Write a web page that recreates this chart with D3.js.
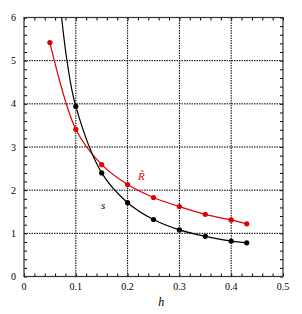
<!DOCTYPE html>
<html>
<head>
<meta charset="utf-8">
<script src="https://cdn.jsdelivr.net/npm/d3@7"></script>
<style>
body { margin: 0; background: #fff; }
text { font-family: "Liberation Serif", "DejaVu Serif", serif; }
</style>
</head>
<body>
<div id="main"></div>
<script>
var xTicks = [0, 0.1, 0.2, 0.3, 0.4, 0.5];
var yTicks = [0, 1, 2, 3, 4, 5, 6];

var sH = [0.1, 0.15, 0.2, 0.25, 0.3, 0.35, 0.4, 0.43];
var sVal = [3.94, 2.4, 1.71, 1.32, 1.08, 0.93, 0.82, 0.78];
// extra line points for s above the top of the plot (no marker)
var sLeadH = [0.07, 0.083];
var sLeadVal = [6.3, 5.0];

var rH = [0.05, 0.1, 0.15, 0.2, 0.25, 0.3, 0.35, 0.4, 0.43];
var rVal = [5.42, 3.41, 2.59, 2.13, 1.83, 1.62, 1.44, 1.31, 1.22];

var w = 302, h = 314;
var m = {left: 24, right: 19, top: 17.5, bottom: 37.5};

var svg = d3.select("#main").append("svg")
  .attr("width", w).attr("height", h);

var x = d3.scaleLinear().domain([0, 0.5]).range([m.left, w - m.right]);
var y = d3.scaleLinear().domain([0, 6]).range([h - m.bottom, m.top]);

svg.append("clipPath").attr("id", "clip").append("rect")
  .attr("x", x(0)).attr("y", y(6))
  .attr("width", x(0.5) - x(0)).attr("height", y(0) - y(6));

// grid
svg.selectAll(".gx").data(xTicks.slice(1, -1)).enter().append("line")
  .attr("x1", function (d) {return x(d);}).attr("x2", function (d) {return x(d);})
  .attr("y1", y(0)).attr("y2", y(6))
  .attr("stroke", "#000").attr("stroke-width", 1).attr("stroke-dasharray", "1.5,1");
svg.selectAll(".gy").data(yTicks.slice(1, -1)).enter().append("line")
  .attr("y1", function (d) {return y(d);}).attr("y2", function (d) {return y(d);})
  .attr("x1", x(0)).attr("x2", x(0.5))
  .attr("stroke", "#000").attr("stroke-width", 1).attr("stroke-dasharray", "1.5,1");

// axes with inner ticks
var minorX = d3.range(0, 0.5001, 0.02);
var minorY = d3.range(0, 6.001, 0.2);

svg.append("g").attr("transform", "translate(0," + y(0) + ")")
  .call(d3.axisBottom(x).tickValues(minorX).tickSize(-3).tickFormat(""))
  .call(function (g) {g.select(".domain").remove();});
svg.append("g").attr("transform", "translate(0," + y(6) + ")")
  .call(d3.axisTop(x).tickValues(minorX).tickSize(-3).tickFormat(""))
  .call(function (g) {g.select(".domain").remove();});
svg.append("g").attr("transform", "translate(" + x(0) + ",0)")
  .call(d3.axisLeft(y).tickValues(minorY).tickSize(-3).tickFormat(""))
  .call(function (g) {g.select(".domain").remove();});
svg.append("g").attr("transform", "translate(" + x(0.5) + ",0)")
  .call(d3.axisRight(y).tickValues(minorY).tickSize(-3).tickFormat(""))
  .call(function (g) {g.select(".domain").remove();});

svg.append("rect")
  .attr("x", x(0)).attr("y", y(6))
  .attr("width", x(0.5) - x(0)).attr("height", y(0) - y(6))
  .attr("fill", "none").attr("stroke", "#333").attr("stroke-width", 1.2);

// tick labels
svg.selectAll(".xl").data(xTicks).enter().append("text")
  .attr("x", function (d) {return x(d);}).attr("y", y(0) + 13)
  .attr("text-anchor", "middle").attr("font-size", 10)
  .text(function (d) {return d;});
svg.selectAll(".yl").data(yTicks).enter().append("text")
  .attr("x", x(0) - 8).attr("y", function (d) {return y(d) + 3.5;})
  .attr("text-anchor", "end").attr("font-size", 10)
  .text(function (d) {return d;});

svg.append("text").attr("x", x(0.265)).attr("y", y(0) + 29)
  .attr("font-size", 12).attr("font-style", "italic").attr("text-anchor", "middle")
  .text("h");

var line = d3.line()
  .x(function (d) {return x(d[0]);})
  .y(function (d) {return y(d[1]);})
  .curve(d3.curveCatmullRom);

var sLine = sLeadH.map(function (v, i) {return [v, sLeadVal[i]];})
  .concat(sH.map(function (v, i) {return [v, sVal[i]];}));
var rLine = rH.map(function (v, i) {return [v, rVal[i]];});

var plot = svg.append("g").attr("clip-path", "url(#clip)");

plot.append("path").datum(rLine).attr("d", line)
  .attr("fill", "none").attr("stroke", "#e00000").attr("stroke-width", 1.2);
plot.append("path").datum(sLine).attr("d", line)
  .attr("fill", "none").attr("stroke", "#000").attr("stroke-width", 1.2);

svg.selectAll(".rp").data(rLine).enter().append("circle")
  .attr("cx", function (d) {return x(d[0]);}).attr("cy", function (d) {return y(d[1]);})
  .attr("r", 2.6).attr("fill", "#e00000");
svg.selectAll(".sp").data(sH.map(function (v, i) {return [v, sVal[i]];})).enter().append("circle")
  .attr("cx", function (d) {return x(d[0]);}).attr("cy", function (d) {return y(d[1]);})
  .attr("r", 2.6).attr("fill", "#000");

// series labels
svg.append("text").attr("x", 101).attr("y", 209)
  .attr("font-size", 11).attr("font-style", "italic").attr("fill", "#000")
  .text("s");
svg.append("text").attr("x", 138).attr("y", 180)
  .attr("font-size", 11).attr("font-style", "italic").attr("fill", "#e00000")
  .text("R\u0303");
</script>
</body>
</html>
